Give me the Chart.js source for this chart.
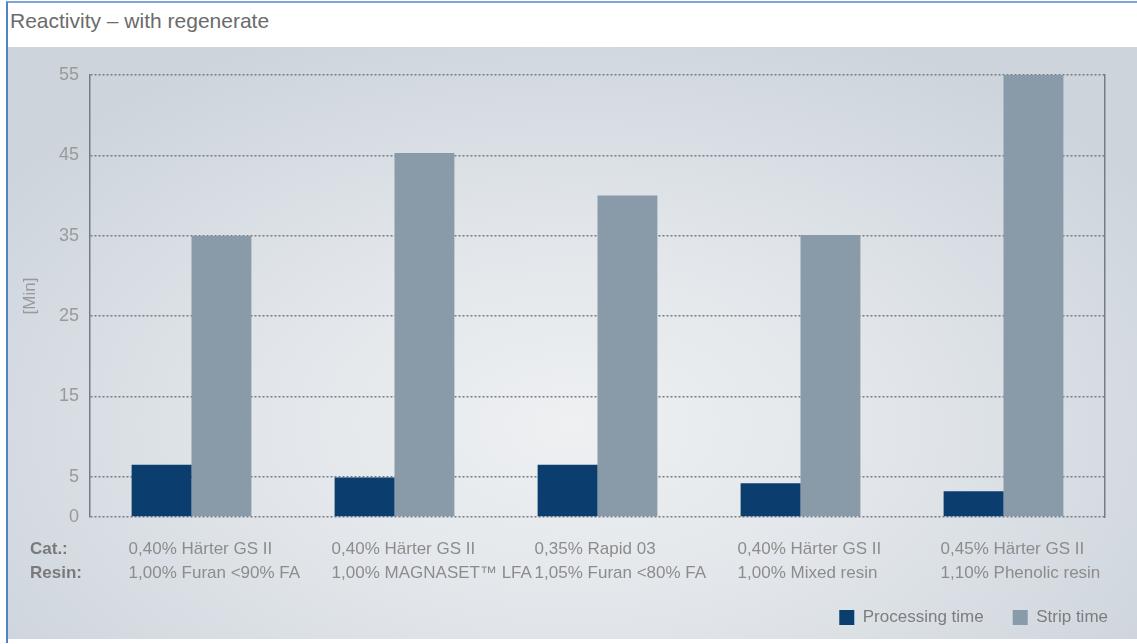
<!DOCTYPE html>
<html>
<head>
<meta charset="utf-8">
<script src="https://cdn.jsdelivr.net/npm/chart.js@4/dist/chart.umd.min.js"></script>
<style>
  html, body { margin: 0; padding: 0; background: #fff; }
  #frame {
    position: absolute; left: 6px; top: 1px; width: 1131px; height: 640px;
    border-left: 2px solid #4f83c4; border-top: 2px solid #7ea6d8;
    font-family: "Liberation Sans", Arial, sans-serif;
  }
  #title {
    height: 44px; line-height: 36px; padding-left: 2px;
    font-size: 21px; color: #6b6b6b; background: #fff;
  }
  #panel {
    position: relative; width: 1129px; height: 592px;
    background: radial-gradient(ellipse 62% 72% at 50% 64%, #eef0f2 0%, #e2e6ea 45%, #cdd4dc 100%);
  }
  canvas { display: block; }
</style>
</head>
<body>
<div id="frame">
  <div id="title">Reactivity – with regenerate</div>
  <div id="panel"><canvas id="chart" width="1129" height="592"></canvas></div>
</div>
<script>
// Rezepturen (Katalysator / Harz) und Zeiten in Minuten
const catLabels = ['0,40% Härter GS II', '0,40% Härter GS II', '0,35% Rapid 03', '0,40% Härter GS II', '0,45% Härter GS II'];
const resinLabels = ['1,00% Furan <90% FA', '1,00% MAGNASET™ LFA', '1,05% Furan <80% FA', '1,00% Mixed resin', '1,10% Phenolic resin'];
const processingTime = [6.5, 4.9, 6.5, 4.2, 3.2];
const stripTime = [35, 45.3, 40, 35.1, 55];
const yTicks = [0, 5, 15, 25, 35, 45, 55];

const FONT = '"Liberation Sans", Arial, sans-serif';
const GRID = '#767c84';
const DOT = [2, 2];

// Beschriftung unter den Balken
const rowLabels = {
  id: 'rowLabels',
  afterDraw(chart) {
    const { ctx, chartArea } = chart;
    const bars = chart.getDatasetMeta(0).data;
    ctx.save();
    ctx.textBaseline = 'middle';
    ctx.textAlign = 'left';
    ctx.fillStyle = '#7a7a7a';
    ctx.font = 'bold 17px ' + FONT;
    ctx.fillText('Cat.:', 22, chartArea.bottom + 32);
    ctx.fillText('Resin:', 22, chartArea.bottom + 56);
    ctx.fillStyle = '#8c8c8c';
    ctx.font = '17px ' + FONT;
    bars.forEach((bar, i) => {
      const left = bar.x - bar.width / 2 - 3;
      ctx.fillText(catLabels[i], left, chartArea.bottom + 32);
      ctx.fillText(resinLabels[i], left, chartArea.bottom + 56);
    });
    ctx.restore();
  }
};

new Chart(document.getElementById('chart'), {
  type: 'bar',
  data: {
    labels: catLabels,
    datasets: [
      { label: 'Processing time', data: processingTime, backgroundColor: '#0b3e6f' },
      { label: 'Strip time', data: stripTime, backgroundColor: '#899aa8' }
    ]
  },
  options: {
    responsive: false,
    animation: false,
    barPercentage: 1,
    categoryPercentage: 0.59,
    layout: { padding: { top: 28, left: 8, right: 0, bottom: 3 } },
    plugins: {
      tooltip: { enabled: false },
      legend: {
        position: 'bottom',
        align: 'end',
        labels: {
          boxWidth: 15, boxHeight: 15, padding: 29,
          color: '#7d7d7d',
          font: { family: FONT, size: 17 }
        }
      }
    },
    scales: {
      x: {
        ticks: { display: false },
        grid: { display: false },
        border: { display: false },
        afterFit: s => { s.height = 63; }
      },
      y: {
        min: 0, max: 55,
        afterBuildTicks: s => { s.ticks = yTicks.map(v => ({ value: v })); },
        afterFit: s => { s.width = 74; },
        ticks: { padding: 11, color: '#9a9a9a', font: { family: FONT, size: 18 } },
        grid: { color: GRID, lineWidth: 1.5, drawTicks: false },
        border: { display: true, color: GRID, width: 1.5, dash: DOT },
        title: {
          display: true, text: '[Min]', color: '#999',
          padding: { top: 4, bottom: 0 },
          font: { family: FONT, size: 17 }
        }
      },
      // nur für den gepunkteten rechten Rahmen
      yR: {
        position: 'right',
        min: 0, max: 55,
        ticks: { display: false },
        grid: { drawOnChartArea: false, drawTicks: false },
        border: { display: true, color: GRID, width: 1.5, dash: DOT },
        afterFit: s => { s.width = 32; }
      }
    }
  },
  plugins: [rowLabels]
});
</script>
</body>
</html>
